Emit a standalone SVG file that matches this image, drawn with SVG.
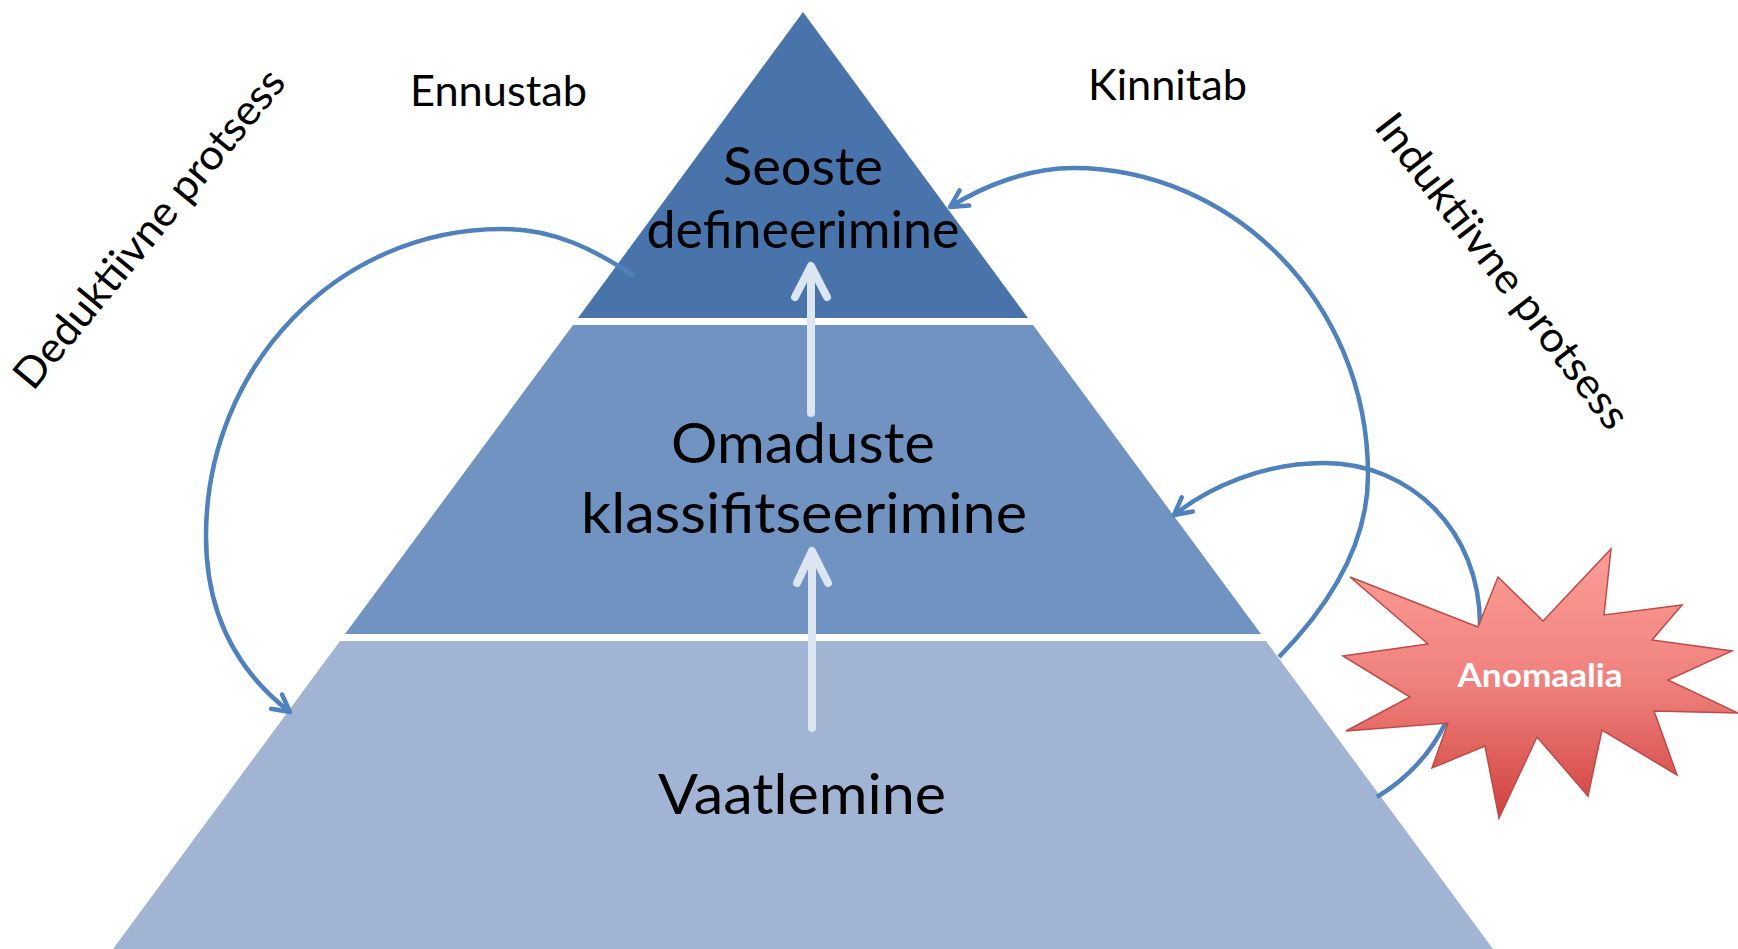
<svg xmlns="http://www.w3.org/2000/svg" width="1738" height="949" viewBox="0 0 1738 949">
  <defs>
    <linearGradient id="starGrad" x1="0" y1="0" x2="0" y2="1">
      <stop offset="0" stop-color="#fc9d97"/>
      <stop offset="0.5" stop-color="#ef817d"/>
      <stop offset="1" stop-color="#d0423f"/>
    </linearGradient>
    <marker id="openArrow" viewBox="0 0 24 24" refX="20" refY="12" markerWidth="24" markerHeight="24" markerUnits="userSpaceOnUse" orient="auto">
      <path d="M3,3 L20,12 L3,21" fill="none" stroke="#4f81bd" stroke-width="4.5" stroke-linecap="round" stroke-linejoin="round"/>
    </marker>
    <style>
      .tier-text { font-family: Lato, "Open Sans", "Liberation Sans", sans-serif; fill: #000; text-anchor: middle; }
      .label { font-family: Lato, "Open Sans", "Liberation Sans", sans-serif; fill: #000; font-size: 42px; }
      .curve { fill: none; stroke: #4f81bd; stroke-width: 4.5; stroke-linecap: butt; }
      .up-arrow { fill: none; stroke: #dce6f2; stroke-width: 8; stroke-linecap: round; stroke-linejoin: round; }
    </style>
  </defs>

  <rect width="1738" height="949" fill="#ffffff"/>

  <g id="node-observation">
    <polygon points="340,641 1266,641 1493,949 113,949" fill="#a1b4d4"/>
    <text class="tier-text" x="802" y="814" font-size="56" textLength="288" lengthAdjust="spacingAndGlyphs">Vaatlemine</text>
  </g>

  <g id="node-classification">
    <polygon points="573,325 1033,325 1261,634 345,634" fill="#7193c2"/>
    <text class="tier-text" x="803" y="463" font-size="56" textLength="264" lengthAdjust="spacingAndGlyphs">Omaduste</text>
    <text class="tier-text" x="804" y="533" font-size="56" textLength="446" lengthAdjust="spacingAndGlyphs">klassifitseerimine</text>
  </g>

  <g id="node-relations">
    <polygon points="803,12 1028,318 578,318" fill="#4874ab"/>
    <text class="tier-text" x="803" y="185" font-size="52" textLength="160" lengthAdjust="spacingAndGlyphs">Seoste</text>
    <text class="tier-text" x="803" y="248" font-size="52" textLength="313" lengthAdjust="spacingAndGlyphs">defineerimine</text>
  </g>

  <g id="connectors">
    <path class="up-arrow" d="M811,413 L811,268 M795,297 L811,266 L827,297"/>
    <path class="up-arrow" d="M812,728 L812,553 M797,583 L812,551 L828,583"/>
    <path class="curve" marker-end="url(#openArrow)" d="M634,276 C 595,250 555,229 502,229 C 338,229 206,366 206,536 C 206,615 238,672 290,712"/>
    <path class="curve" marker-end="url(#openArrow)" d="M1279,657 C 1330,605 1368,545 1368,475 C 1368,300 1230,168 1073,168 C 1030,168 985,185 950,207"/>
    <path class="curve" marker-end="url(#openArrow)" d="M1480,625 C 1480,530 1410,463 1324,463 C 1262,463 1208,488 1174,515"/>
    <path class="curve" d="M1446,722 C 1430,755 1405,780 1377,797"/>
  </g>

  <g id="node-anomaly">
    <polygon points="1350,577 1478,627 1498,577 1543,621 1611,549 1604,615 1682,605 1652,640 1732,651 1668,680 1738,713 1654,711 1677,775 1602,730 1588,796 1537,737 1499,818 1485,746 1432,768 1448,723 1346,731 1410,697 1343,656 1428,644" fill="url(#starGrad)" stroke="#be4b48" stroke-width="1.5" stroke-linejoin="miter"/>
    <text x="1540" y="687" font-family="Lato, 'Open Sans', 'Liberation Sans', sans-serif" font-weight="bold" font-size="33" fill="#ffffff" text-anchor="middle" textLength="165" lengthAdjust="spacingAndGlyphs">Anomaalia</text>
  </g>

  <g id="label-ennustab">
    <text class="label" x="410" y="106" textLength="177" lengthAdjust="spacingAndGlyphs">Ennustab</text>
  </g>
  <g id="label-kinnitab">
    <text class="label" x="1088" y="100" textLength="159" lengthAdjust="spacingAndGlyphs">Kinnitab</text>
  </g>
  <g id="label-deductive">
    <text class="label" transform="translate(33,392) rotate(-50.5)" textLength="400" lengthAdjust="spacingAndGlyphs">Deduktiivne protsess</text>
  </g>
  <g id="label-inductive">
    <text class="label" transform="translate(1373,127) rotate(52.3)" textLength="386" lengthAdjust="spacingAndGlyphs">Induktiivne protsess</text>
  </g>
</svg>
